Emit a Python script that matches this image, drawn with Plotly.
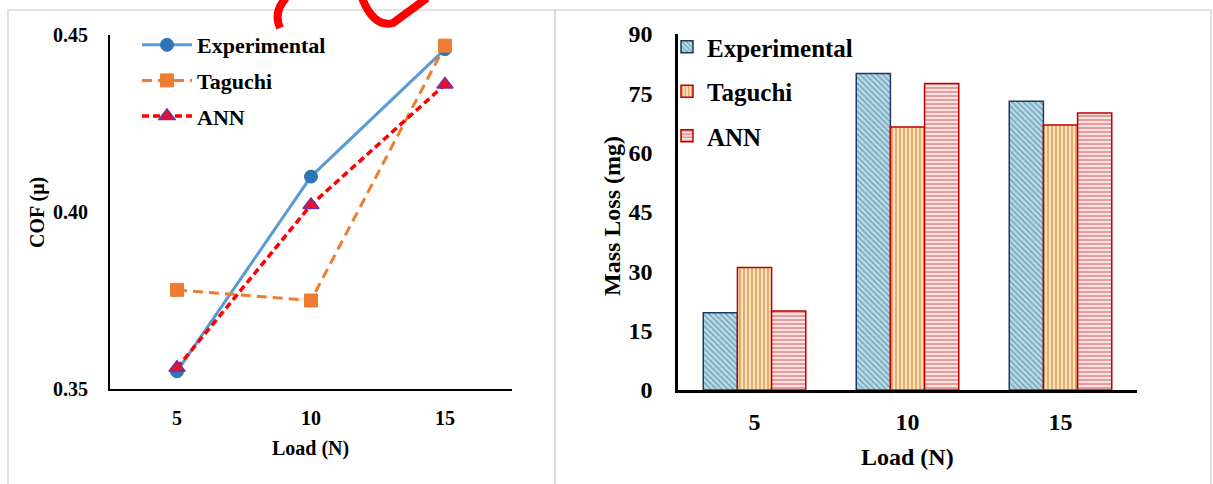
import plotly.graph_objects as go

W, H = 1213, 484

# ---------------- data ----------------
loads = ["5", "10", "15"]
cof_experimental = [0.355, 0.410, 0.446]
cof_taguchi = [0.378, 0.375, 0.447]
cof_ann = [0.356, 0.402, 0.436]

mass_experimental = [19.5, 80.0, 73.0]
mass_taguchi = [31.0, 66.5, 67.0]
mass_ann = [20.0, 77.5, 70.0]

cof_ticks = [0.35, 0.40, 0.45]
cof_ticktext = ["0.35", "0.40", "0.45"]
mass_ticks = [0, 15, 30, 45, 60, 75, 90]


def px(x):
    return x / W


def py(y):
    return 1 - y / H


FONT = "Liberation Serif, Times New Roman, serif"

fig = go.Figure()

# ---------------- left: COF line chart ----------------
fig.add_trace(go.Scatter(
    x=loads, y=cof_experimental, name="Experimental", mode="lines+markers",
    line=dict(color="#5B9BD5", width=3),
    marker=dict(symbol="circle", size=13, color="#2E75B6", line=dict(color="#2E75B6", width=1)),
    xaxis="x", yaxis="y", legend="legend", legendgroup="a"))
fig.add_trace(go.Scatter(
    x=loads, y=cof_taguchi, name="Taguchi", mode="lines+markers",
    line=dict(color="#ED7D31", width=3, dash="10px,6px"),
    marker=dict(symbol="square", size=13, color="#ED7D31", line=dict(color="#ED7D31", width=1)),
    xaxis="x", yaxis="y", legend="legend", legendgroup="b"))
fig.add_trace(go.Scatter(
    x=loads, y=cof_ann, name="ANN", mode="lines+markers",
    line=dict(color="#FF0000", width=3.5, dash="7px,4px"),
    marker=dict(symbol="triangle-up", size=14, color="#E8102A", line=dict(color="#7030A0", width=1.5)),
    xaxis="x", yaxis="y", legend="legend", legendgroup="c"))

# ---------------- right: mass loss bar chart ----------------
fig.add_trace(go.Bar(
    x=loads, y=mass_experimental, name="Experimental",
    marker=dict(color="#B3D8E6", line=dict(color="#1F3864", width=1.5),
                pattern=dict(shape="\\", fgcolor="#6A97AE", bgcolor="#B8DBE8", size=4, solidity=0.3)),
    xaxis="x2", yaxis="y2", legend="legend2", legendgroup="d"))
fig.add_trace(go.Bar(
    x=loads, y=mass_taguchi, name="Taguchi",
    marker=dict(color="#F9D9AE", line=dict(color="#C00000", width=1.5),
                pattern=dict(shape="|", fgcolor="#DE9448", bgcolor="#FBE3C0", size=4, solidity=0.35)),
    xaxis="x2", yaxis="y2", legend="legend2", legendgroup="e"))
fig.add_trace(go.Bar(
    x=loads, y=mass_ann, name="ANN",
    marker=dict(color="#F8D3D3", line=dict(color="#C00000", width=1.5),
                pattern=dict(shape="-", fgcolor="#E07878", bgcolor="#FBE4E4", size=4, solidity=0.35)),
    xaxis="x2", yaxis="y2", legend="legend2", legendgroup="f"))

axis_common = dict(showgrid=False, zeroline=False, showline=True, linecolor="black",
                   ticks="", mirror=False, fixedrange=True, automargin=False)

fig.update_layout(
    template="none",
    width=W, height=H,
    margin=dict(l=0, r=0, t=0, b=0, pad=0, autoexpand=False),
    paper_bgcolor="white", plot_bgcolor="white",
    font=dict(family=FONT, color="black", weight="bold"),
    barmode="group", bargap=0.33, bargroupgap=0,
    xaxis=dict(axis_common, domain=[px(110), px(512)], anchor="y", type="category",
               range=[-0.5, 2.5], linewidth=2, tickfont=dict(size=20, family=FONT, weight="bold"),
               ticklabelstandoff=10),
    yaxis=dict(axis_common, domain=[py(389), py(35)], anchor="x", range=[0.35, 0.45],
               tickvals=cof_ticks, ticktext=cof_ticktext, linewidth=2,
               tickfont=dict(size=20, family=FONT, weight="bold"), ticklabelstandoff=16),
    xaxis2=dict(axis_common, domain=[px(678), px(1137)], anchor="y2", type="category",
                range=[-0.5, 2.5], linewidth=2.5, tickfont=dict(size=24, family=FONT, weight="bold"),
                ticklabelstandoff=8),
    yaxis2=dict(axis_common, domain=[py(390), py(34)], anchor="x2", range=[0, 90],
                tickvals=mass_ticks, linewidth=2.5,
                tickfont=dict(size=24, family=FONT, weight="bold"), ticklabelstandoff=18),
    legend=dict(x=px(137), y=py(24), xanchor="left", yanchor="top", bgcolor="rgba(0,0,0,0)",
                font=dict(size=22, family=FONT, weight="bold"), itemwidth=50,
                tracegroupgap=4, traceorder="grouped"),
    legend2=dict(x=px(667), y=py(24), xanchor="left", yanchor="top", bgcolor="rgba(0,0,0,0)",
                 font=dict(size=25, family=FONT, weight="bold"), itemwidth=30,
                 tracegroupgap=9, traceorder="grouped"),
    showlegend=True,
)

annotations = [
    dict(text="Load (N)", x=px(310), y=py(448), xref="paper", yref="paper", showarrow=False,
         font=dict(size=20, family=FONT, weight="bold"), xanchor="center", yanchor="middle"),
    dict(text="COF (\u03bc)", x=px(37), y=py(213), xref="paper", yref="paper", showarrow=False,
         textangle=-90, font=dict(size=20, family=FONT, weight="bold"), xanchor="center", yanchor="middle"),
    dict(text="Load (N)", x=px(908), y=py(457), xref="paper", yref="paper", showarrow=False,
         font=dict(size=24, family=FONT, weight="bold"), xanchor="center", yanchor="middle"),
    dict(text="Mass Loss (mg)", x=px(612), y=py(216), xref="paper", yref="paper", showarrow=False,
         textangle=-90, font=dict(size=24, family=FONT, weight="bold"), xanchor="center", yanchor="middle"),
]
fig.update_layout(annotations=annotations)

shapes = [
    dict(type="rect", xref="paper", yref="paper", x0=px(8), x1=px(555), y0=py(495), y1=py(10),
         line=dict(color="#D9D9D9", width=1.5), layer="below"),
    dict(type="rect", xref="paper", yref="paper", x0=px(555), x1=px(1211), y0=py(495), y1=py(10),
         line=dict(color="#D9D9D9", width=1.5), layer="below"),
    # red hand-drawn annotation fragments at the top
    dict(type="path", xref="paper", yref="paper",
         path=f"M {px(286)},{py(-2)} Q {px(273)},{py(12)} {px(280)},{py(28)}",
         line=dict(color="#FF0000", width=8), layer="above"),
    dict(type="path", xref="paper", yref="paper",
         path=f"M {px(362)},{py(-2)} Q {px(374)},{py(28)} {px(393)},{py(23)} L {px(427)},{py(-2)}",
         line=dict(color="#FF0000", width=8), layer="above"),
]
fig.update_layout(shapes=shapes)

fig.write_html("out.html")
